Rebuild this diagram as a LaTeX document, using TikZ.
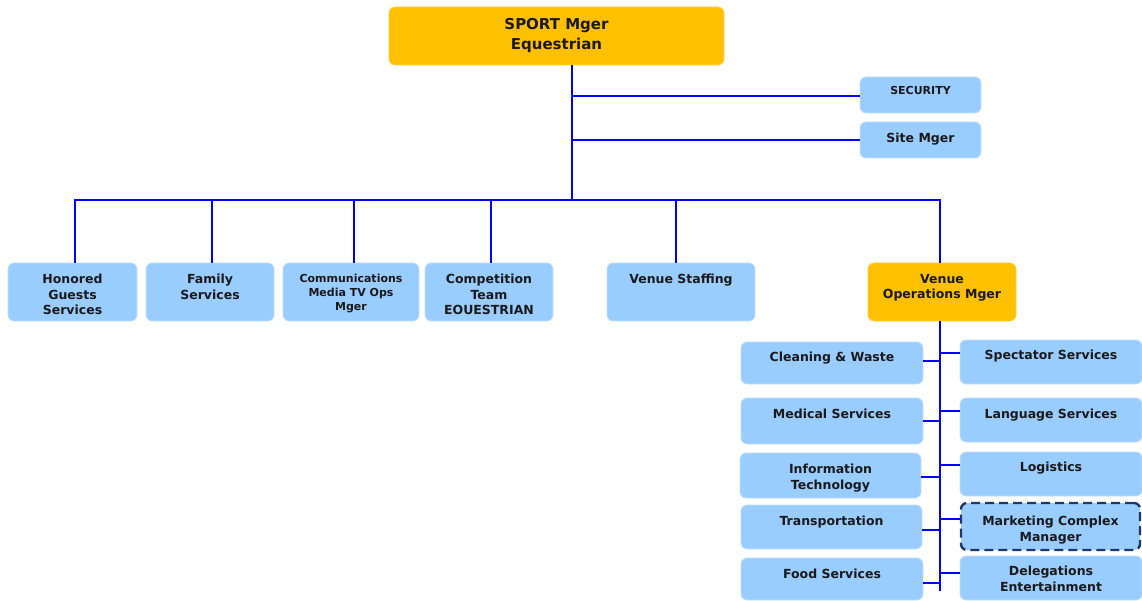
\documentclass[tikz,border=0pt]{standalone}
\usepackage{fontspec}
\setmainfont{DejaVu Sans}
\definecolor{mgr}{HTML}{FFC000}
\definecolor{unit}{HTML}{99CCFF}
\definecolor{wire}{HTML}{0000FF}
\definecolor{ink}{HTML}{1A1A1A}
\definecolor{navy}{HTML}{1F3864}
\begin{document}
\begin{tikzpicture}[x=1pt,y=-1pt,
  base/.style={rectangle, rounded corners=6pt, inner sep=0pt, line width=0.8pt},
  mgrbox/.style={base, fill=mgr, draw=mgr!70!white},
  unitbox/.style={base, fill=unit, draw=unit!60!white},
  dashbox/.style={base, fill=unit, draw=navy, line width=2.4pt, dash pattern=on 9pt off 5pt},
  lbl/.style={anchor=north, inner sep=0pt, align=center, text=ink, yshift=-2pt,
    font=\bfseries\fontsize{12.5}{15.5}\selectfont},
  small/.style={lbl, font=\bfseries\fontsize{11}{14}\selectfont},
  big/.style={lbl, font=\bfseries\fontsize{15}{20}\selectfont},
  wire/.style={draw=wire, line width=2.6pt},
]
\useasboundingbox (0,0) rectangle (1142,601);

% top manager and staff boxes
\node[mgrbox, minimum width=335pt, minimum height=58pt] (sport) at (556.5,36) {};
\node[big] (sportT) at (556.5,15.7) {SPORT Mger\\Equestrian};
\node[unitbox, minimum width=121pt, minimum height=36pt] (sec) at (920.5,95) {};
\node[small] (secT) at (920.5,84.6) {SECURITY};
\node[unitbox, minimum width=121pt, minimum height=36pt] (site) at (920.5,140) {};
\node[lbl] (siteT) at (920.5,131) {Site Mger};

% functional row
\node[unitbox, minimum width=129pt, minimum height=58pt] (hon) at (72.5,292) {};
\node[lbl] (honT) at (72.5,271.9) {Honored\\Guests\\Services};
\node[unitbox, minimum width=128pt, minimum height=58pt] (fam) at (210,292) {};
\node[lbl] (famT) at (210,271.9) {Family\\Services};
\node[unitbox, minimum width=136pt, minimum height=58pt] (com) at (351,292) {};
\node[small] (comT) at (351,271.6) {Communications\\Media TV Ops\\Mger};
\node[unitbox, minimum width=128pt, minimum height=58pt] (cmp) at (489,292) {};
\node[lbl] (cmpT) at (489,271.9) {Competition\\Team\\EOUESTRIAN};
\node[unitbox, minimum width=148pt, minimum height=58pt] (stf) at (681,292) {};
\node[lbl] (stfT) at (681,271.9) {Venue Staffing};
\node[mgrbox, minimum width=148pt, minimum height=58pt] (vop) at (942,292) {};
\node[lbl] (vopT) at (942,271.9) {Venue\\Operations Mger};

% venue operations, left column
\node[unitbox, minimum width=182pt, minimum height=42pt] (cln) at (832,363) {};
\node[lbl] (clnT) at (832,349.9) {Cleaning \& Waste};
\node[unitbox, minimum width=182pt, minimum height=46pt] (med) at (832,421) {};
\node[lbl] (medT) at (832,406.9) {Medical Services};
\node[unitbox, minimum width=181pt, minimum height=45pt] (it) at (830.5,475.5) {};
\node[lbl] (itT) at (830.5,461.9) {Information\\Technology};
\node[unitbox, minimum width=181pt, minimum height=44pt] (trn) at (831.5,527) {};
\node[lbl] (trnT) at (831.5,513.9) {Transportation};
\node[unitbox, minimum width=182pt, minimum height=42pt] (food) at (832,579) {};
\node[lbl] (foodT) at (832,566.9) {Food Services};

% venue operations, right column
\node[unitbox, minimum width=182pt, minimum height=44pt] (spc) at (1051,362) {};
\node[lbl] (spcT) at (1051,347.9) {Spectator Services};
\node[unitbox, minimum width=182pt, minimum height=44pt] (lng) at (1051,420) {};
\node[lbl] (lngT) at (1051,406.9) {Language Services};
\node[unitbox, minimum width=182pt, minimum height=44pt] (log) at (1051,474) {};
\node[lbl] (logT) at (1051,459.9) {Logistics};
\node[dashbox, minimum width=179pt, minimum height=47pt] (mkt) at (1050.5,526.5) {};
\node[lbl] (mktT) at (1050.5,513.9) {Marketing Complex\\Manager};
\node[unitbox, minimum width=182pt, minimum height=44pt] (del) at (1051,578) {};
\node[lbl] (delT) at (1051,563.9) {Delegations\\Entertainment};

% trunk from the sport manager
\coordinate (hub) at (572,200);
\draw[wire] (hub |- sport.south) -- (hub);
\draw[wire] ([yshift=-1pt]hub |- sec.west) -- ([yshift=-1pt]sec.west);
\draw[wire] (hub |- site.west) -- (site.west);

% bus to the functional row, outer drops joined to it
\draw[wire] ([xshift=2.5pt]hon.north) -- ([xshift=2.5pt]hon.north |- hub)
  -- ([xshift=-2pt]vop.north |- hub) -- ([xshift=-2pt]vop.north);
\foreach \n/\s in {fam/2,com/3,cmp/2,stf/-5}
  \draw[wire] ([xshift=\s pt]\n.north |- hub) -- ([xshift=\s pt]\n.north);

% spine under venue operations
\coordinate (vend) at (940,591);
\draw[wire] (vend |- vop.south) -- (vend);
\draw[wire] ([yshift=2pt]cln.east) -- ([yshift=2pt]vend |- cln.east);
\draw[wire] (med.east) -- (vend |- med.east);
\draw[wire] ([yshift=-1.5pt]it.east) -- ([yshift=-1.5pt]vend |- it.east);
\draw[wire] ([yshift=-3pt]trn.east) -- ([yshift=-3pt]vend |- trn.east);
\draw[wire] ([yshift=-4pt]food.east) -- ([yshift=-4pt]vend |- food.east);
\foreach \n/\s in {spc/9,lng/9,log/9,mkt/7.5,del/5}
  \draw[wire] ([yshift=\s pt]vend |- \n.west) -- ([yshift=\s pt]\n.west);
\end{tikzpicture}
\end{document}
